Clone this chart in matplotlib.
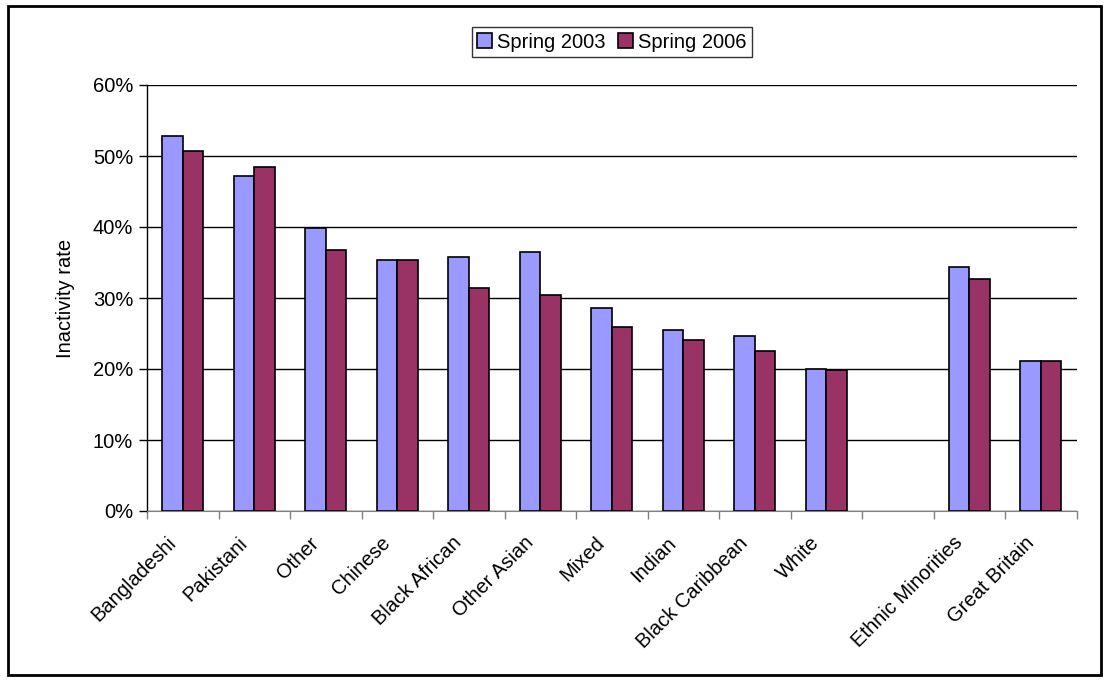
import matplotlib.pyplot as plt
import numpy as np
from matplotlib.patches import Rectangle
from matplotlib.ticker import PercentFormatter, FixedLocator
from matplotlib.transforms import ScaledTranslation

plt.rcParams['font.family'] = ['Liberation Sans', 'DejaVu Sans']

groups = ["Bangladeshi", "Pakistani", "Other", "Chinese", "Black African",
          "Other Asian", "Mixed", "Indian", "Black Caribbean", "White", "",
          "Ethnic Minorities", "Great Britain"]
spring_2003 = [52.8, 47.2, 39.8, 35.3, 35.8, 36.5, 28.6, 25.5, 24.7, 20.0, np.nan, 34.4, 21.1]
spring_2006 = [50.7, 48.5, 36.7, 35.3, 31.4, 30.4, 25.9, 24.1, 22.6, 19.9, np.nan, 32.7, 21.1]

fs = 14.5
fig = plt.figure(figsize=(11.09, 6.81), dpi=100)
ax = fig.add_axes([147 / 1109, 1 - 511 / 681, 929.5 / 1109, 426 / 681])

x = np.arange(len(groups))
w = 0.287
ax.bar(x - w / 2, spring_2003, w, color="#9999ff", edgecolor="black", linewidth=1.2,
       label="Spring 2003", zorder=3)
ax.bar(x + w / 2, spring_2006, w, color="#993366", edgecolor="black", linewidth=1.2,
       label="Spring 2006", zorder=3)

ax.set_xlim(-0.5, len(groups) - 0.5)
ax.set_ylim(0, 60)
ax.set_yticks(np.arange(0, 61, 10))
ax.yaxis.set_major_formatter(PercentFormatter(decimals=0))
ax.yaxis.grid(True, color="black", linewidth=1)
ax.set_axisbelow(True)

ax.set_xticks(x)
ax.set_xticklabels(groups, rotation=45, ha="right", va="center", rotation_mode="anchor")
ax.tick_params(axis="x", length=0, pad=0)
offset = ScaledTranslation(-10 / 100, -29 / 100, fig.dpi_scale_trans)
for lab in ax.get_xticklabels():
    lab.set_transform(lab.get_transform() + offset)
ax.xaxis.set_minor_locator(FixedLocator(np.arange(-0.5, len(groups), 1)))
ax.tick_params(axis="x", which="minor", length=6, color="#808080", width=1)
ax.tick_params(axis="y", length=6, width=1, pad=4)
ax.tick_params(labelsize=fs)

for s in ["top", "right"]:
    ax.spines[s].set_visible(False)
ax.spines["bottom"].set_color("#808080")
ax.spines["left"].set_linewidth(1)

ax.set_ylabel("Inactivity rate", fontsize=fs)
ax.yaxis.set_label_coords(-(147 - 75) / 929.5, (511 - 298) / 426)

leg = fig.legend(loc="center", bbox_to_anchor=(612 / 1109, 1 - 42 / 681), ncol=2,
                 fontsize=fs, frameon=True, fancybox=False, edgecolor="black",
                 handlelength=0.75, handleheight=0.75, handletextpad=0.25,
                 columnspacing=0.6, borderpad=0.25)
leg.get_frame().set_linewidth(1)

fig.patches.append(Rectangle((8 / 1109, 6 / 681), 1 - 16 / 1109, 1 - 12 / 681,
                             transform=fig.transFigure, fill=False,
                             edgecolor="black", linewidth=2))

fig.savefig("out.png", dpi=100)
